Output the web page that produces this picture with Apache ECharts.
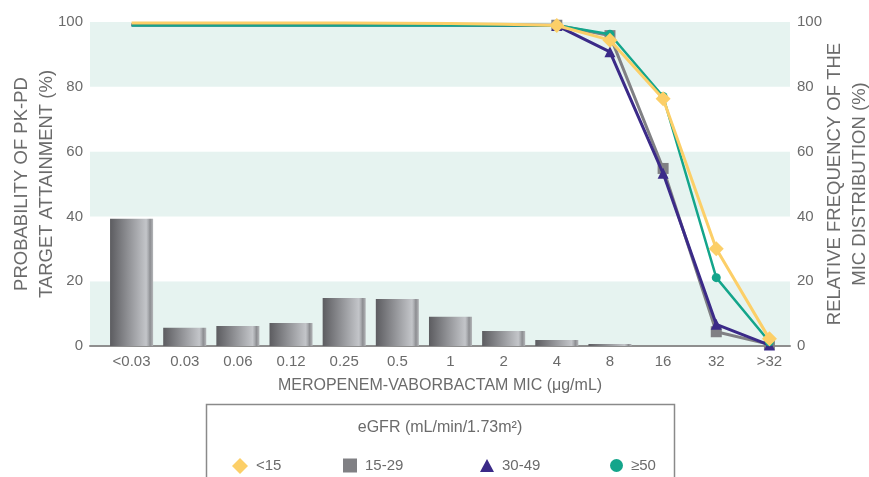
<!DOCTYPE html>
<html>
<head>
<meta charset="utf-8">
<script src="https://cdn.jsdelivr.net/npm/echarts@6/dist/echarts.min.js"></script>
<style>
html,body{margin:0;padding:0;background:#fff;}
#c{width:869px;height:477px;}
</style>
</head>
<body>
<div id="c"></div>
<script>
const categories = ['<0.03','0.03','0.06','0.12','0.25','0.5','1','2','4','8','16','32','>32'];
const yTicks = [0,20,40,60,80,100];
const micFrequency = [39.3,5.6,6.2,7.1,14.8,14.5,9.0,4.6,1.85,0.6,0,0,0];
const pta_lt15   = [99.7,99.7,99.7,99.7,99.7,99.6,99.5,99.3,98.9,94.4,76.3,30.0,2.2];
const pta_15_29  = [99.2,99.2,99.2,99.2,99.2,99.2,99.2,99.1,99.0,95.8,54.8,4.4,0.5];
const pta_30_49  = [99.1,99.1,99.1,99.1,99.1,99.1,99.1,99.0,98.9,90.8,53.3,6.7,0.3];
const pta_ge50   = [98.9,98.9,98.9,98.9,98.9,98.9,98.9,98.9,99.0,96.2,77.0,21.1,1.3];
const seriesNames = ['<15','15-29','30-49','≥50'];

const FONT = '"Liberation Sans", Arial, sans-serif';
const TXT = '#6b6b6b';
const chart = echarts.init(document.getElementById('c'), null, {renderer:'canvas'});

function sym(size){ return function(v, p){ return p.dataIndex >= 8 ? size : 0; }; }

const barGrad = new echarts.graphic.LinearGradient(0,0,1,0,[
  {offset:0, color:'#5c5c60'},
  {offset:0.84, color:'#c3c5c9'},
  {offset:0.89, color:'#a9abaf'},
  {offset:0.93, color:'#8c8d91'},
  {offset:1, color:'#b4b6b9'}
]);

const legendDefs = [
  {name:'<15', icon:'diamond', left:227, w:16, h:16},
  {name:'15-29', icon:'rect', left:338, w:14, h:14},
  {name:'30-49', icon:'triangle', left:475, w:14, h:13},
  {name:'≥50', icon:'circle', left:605, w:13, h:13}
];

chart.setOption({
  animation:false,
  textStyle:{fontFamily:FONT},
  grid:[
    {left:90, right:79, top:22, bottom:131, containLabel:false, outerBoundsMode:'none'},
    {left:105, right:73, top:22, bottom:131, containLabel:false, outerBoundsMode:'none'}
  ],
  xAxis:[
    {gridIndex:0, type:'category', data:categories, boundaryGap:true,
     axisLine:{show:true, lineStyle:{color:'#8e8e8e', width:2}},
     axisTick:{show:false}, axisLabel:{show:false},
     name:'MEROPENEM-VABORBACTAM MIC (μg/mL)', nameLocation:'middle', nameGap:32, nameMoveOverlap:false,
     nameTextStyle:{color:TXT, fontSize:16, fontFamily:FONT}},
    {gridIndex:1, type:'category', data:categories, boundaryGap:true,
     axisLine:{show:false}, axisTick:{show:false},
     axisLabel:{color:TXT, fontSize:15, margin:8, interval:0, fontFamily:FONT}}
  ],
  yAxis:[
    {gridIndex:0, type:'value', min:0, max:100, interval:20, position:'left',
     axisLine:{show:false}, axisTick:{show:false}, splitLine:{show:false},
     splitArea:{show:true, areaStyle:{color:['#e6f3f0','#ffffff']}},
     axisLabel:{color:TXT, fontSize:15, margin:7, fontFamily:FONT},
     name:'PROBABILITY OF PK-PD\nTARGET ATTAINMENT (%)', nameLocation:'middle', nameRotate:90, nameGap:31,
     nameMoveOverlap:false,
     nameTextStyle:{color:TXT, fontSize:18.5, lineHeight:25, fontFamily:FONT}},
    {gridIndex:0, type:'value', min:0, max:100, interval:20, position:'right',
     axisLine:{show:false}, axisTick:{show:false}, splitLine:{show:false},
     axisLabel:{color:TXT, fontSize:15, margin:7, fontFamily:FONT},
     name:'RELATIVE FREQUENCY OF THE\nMIC DISTRIBUTION (%)', nameLocation:'middle', nameRotate:90, nameGap:32,
     nameMoveOverlap:false,
     nameTextStyle:{color:TXT, fontSize:18.5, lineHeight:25, fontFamily:FONT}},
    {gridIndex:1, type:'value', min:0, max:100, interval:20, show:false},
    {gridIndex:1, type:'value', min:0, max:100, interval:20, show:false, position:'right'}
  ],
  legend: legendDefs.map(d => ({
    data:[{name:d.name, icon:d.icon}],
    left:d.left, top:453, itemWidth:d.w, itemHeight:d.h, itemGap:0,
    textStyle:{color:TXT, fontSize:15, fontFamily:FONT, padding:[0,0,0,3]},
    selectedMode:false
  })),
  graphic:[
    {type:'rect', shape:{x:206.5, y:404.5, width:468, height:120},
     style:{fill:'none', stroke:'#8a8a8a', lineWidth:1.5}, silent:true},
    {type:'text', x:440, y:428, style:{text:'eGFR (mL/min/1.73m²)', fill:TXT, font:'16px '+FONT, textAlign:'center', textVerticalAlign:'middle'}, silent:true}
  ],
  series:[
    {name:'MIC distribution', type:'bar', xAxisIndex:1, yAxisIndex:3, data:micFrequency,
     barCategoryGap:'19%', itemStyle:{color:barGrad}, z:1},
    {name:'15-29', type:'line', xAxisIndex:1, yAxisIndex:2, data:pta_15_29,
     symbol:'rect', symbolSize:sym(11), showSymbol:true,
     lineStyle:{color:'#808084', width:3}, itemStyle:{color:'#808084'}, z:3},
    {name:'30-49', type:'line', xAxisIndex:1, yAxisIndex:2, data:pta_30_49,
     symbol:'triangle', symbolSize:sym(11),
     lineStyle:{color:'#3b2a88', width:3}, itemStyle:{color:'#3b2a88'}, z:4},
    {name:'≥50', type:'line', xAxisIndex:1, yAxisIndex:2, data:pta_ge50,
     symbol:'circle', symbolSize:sym(9),
     lineStyle:{color:'#14a58b', width:2.5}, itemStyle:{color:'#14a58b'}, z:5},
    {name:'<15', type:'line', xAxisIndex:1, yAxisIndex:2, data:pta_lt15,
     symbol:'diamond', symbolSize:sym(15),
     lineStyle:{color:'#fccf68', width:3}, itemStyle:{color:'#fccf68'}, z:6}
  ]
});
</script>
</body>
</html>
